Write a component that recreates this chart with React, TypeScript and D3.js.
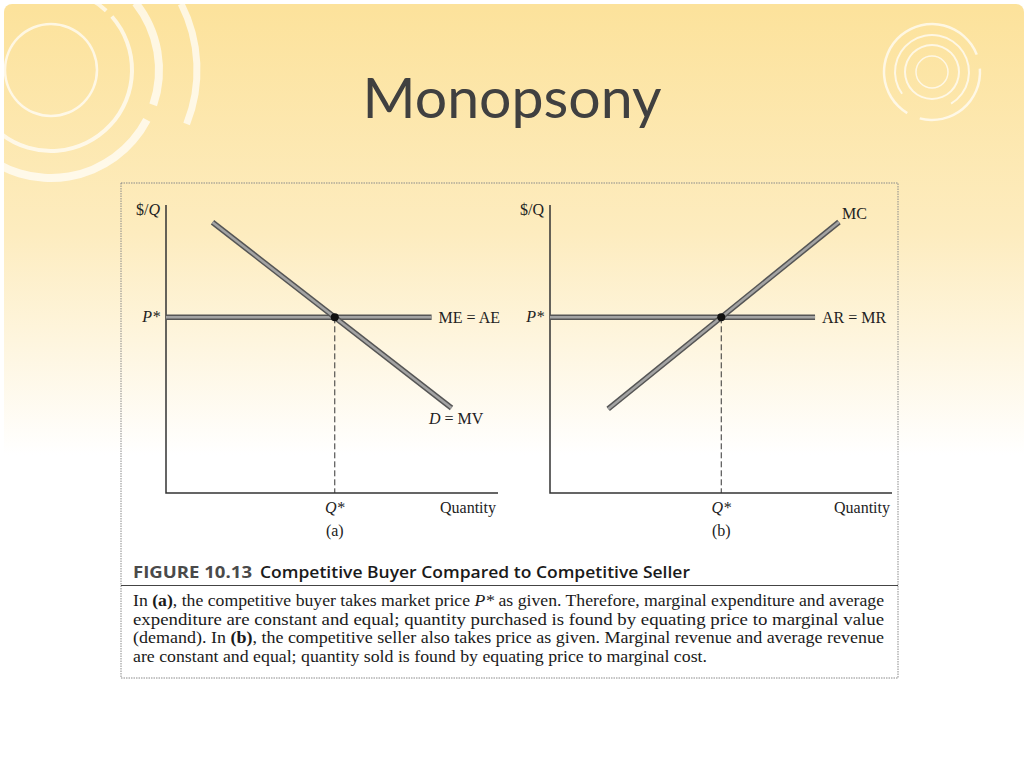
import React from 'react';
import * as d3 from 'd3';

// chart values (abstract units, 0-10 on both axes)
const pStar = 6.1;
const demandQ = [1.4, 8.6];
const demandP = [9.4, 2.95];
const mcQ = [1.7, 8.45];
const mcP = [2.92, 9.41];
const flatLineEnd = [8.0, 7.75]; // ME = AE in (a), AR = MR in (b)

const paragraph: { t: string; s?: string }[][] = [
  [{ t: 'In ' }, { t: '(a)', s: 'b' }, { t: ', the competitive buyer takes market price ' }, { t: 'P*', s: 'i' }, { t: ' as given. Therefore, marginal expenditure and average' }],
  [{ t: 'expenditure are constant and equal; quantity purchased is found by equating price to marginal value' }],
  [{ t: '(demand). In ' }, { t: '(b)', s: 'b' }, { t: ', the competitive seller also takes price as given. Marginal revenue and average revenue' }],
  [{ t: 'are constant and equal; quantity sold is found by equating price to marginal cost.' }],
];
const lineWidths = [751, 751, 751, 574];

const W = 1024;
const H = 768;
const serif = '"Liberation Serif", "DejaVu Serif", serif';

// where a straight segment crosses the price level
const crossAt = (qs: number[], ps: number[], p: number) =>
  qs[0] + ((p - ps[0]) / (ps[1] - ps[0])) * (qs[1] - qs[0]);

const ThickLine: React.FC<{ d: string }> = ({ d }) => (
  <g fill="none" strokeLinecap="butt">
    <path d={d} stroke="#555" strokeWidth={5.5} />
    <path d={d} stroke="#a3a3a3" strokeWidth={2.5} />
  </g>
);

interface PanelProps {
  x0: number;
  x1: number;
  qs: number[];
  ps: number[];
  flatEnd: number;
  flatLabel: string;
  curveLabel: React.ReactNode;
  curveLabelPos: [number, number];
  sub: string;
  italicQ: boolean;
}

const Panel: React.FC<PanelProps> = ({ x0, x1, qs, ps, flatEnd, flatLabel, curveLabel, curveLabelPos, sub, italicQ }) => {
  const x = d3.scaleLinear().domain([0, 10]).range([x0, x1]);
  const y = d3.scaleLinear().domain([0, 10]).range([493, 205]);
  const line = d3.line<[number, number]>().x(d => x(d[0])).y(d => y(d[1]));
  const curve = line(qs.map((q, i) => [q, ps[i]] as [number, number])) || '';
  const flat = line([[0, pStar], [flatEnd, pStar]]) || '';
  const qStar = crossAt(qs, ps, pStar);
  return (
    <g fontFamily={serif} fontSize={16} fill="#222">
      {/* axes */}
      <path d={`M${x(0)},${y(10)}V${y(0)}H${x(10)}`} fill="none" stroke="#333" strokeWidth={1.5} />
      {/* dashed guide */}
      <line x1={x(qStar)} x2={x(qStar)} y1={y(pStar)} y2={y(0)} stroke="#333" strokeWidth={1} strokeDasharray="6,3" />
      <ThickLine d={flat} />
      <ThickLine d={curve} />
      <circle cx={x(qStar)} cy={y(pStar)} r={4} fill="#111" />
      <text x={x(0) - 6} y={215} textAnchor="end">
        $/<tspan fontStyle={italicQ ? 'italic' : 'normal'}>Q</tspan>
      </text>
      <text x={x(0) - 6} y={y(pStar) + 5} textAnchor="end" fontStyle="italic">P*</text>
      <text x={x(flatEnd) + 7} y={y(pStar) + 6}>{flatLabel}</text>
      <text x={curveLabelPos[0]} y={curveLabelPos[1]}>{curveLabel}</text>
      <text x={x(qStar)} y={513} textAnchor="middle" fontStyle="italic">Q*</text>
      <text x={x(10) - 2} y={513} textAnchor="end">Quantity</text>
      <text x={x(qStar)} y={536} textAnchor="middle">{sub}</text>
    </g>
  );
};

const Rings: React.FC<{ cx: number; cy: number; rings: [number, number, number, number][] }> = ({ cx, cy, rings }) => {
  const arc = d3.arc();
  return (
    <g transform={`translate(${cx},${cy})`} fill="#fff">
      {rings.map(([r, w, a0, a1], i) => (
        <path
          key={i}
          opacity={0.7}
          d={arc({ innerRadius: r - w / 2, outerRadius: r + w / 2, startAngle: a0, endAngle: a1 }) || ''}
        />
      ))}
    </g>
  );
};

const App: React.FC = () => {
  return (
    <div style={{ position: 'fixed', left: 0, top: 0 }}>
      <svg width={W} height={H} viewBox={`0 0 ${W} ${H}`}>
        <defs>
          <linearGradient id="bg" x1="0" y1="0" x2="0" y2="1">
            <stop offset="0" stopColor="#fce29b" />
            <stop offset="0.3" stopColor="#fdecbf" />
            <stop offset="0.59" stopColor="#ffffff" />
            <stop offset="1" stopColor="#ffffff" />
          </linearGradient>
        </defs>
        <rect width={W} height={H} fill="#fff" />
        <rect x={4} y={4} width={W - 4} height={H - 4} rx={8} fill="url(#bg)" />

        <Rings
          cx={51}
          cy={70}
          rings={[
            [46, 2.5, 0, 2 * Math.PI],
            [81, 4, -0.4, 0.75],
            [81, 4, 0.85, 3.8],
            [108, 8, 0.9, 1.9],
            [108, 8, 2.05, 3.9],
            [125, 4, 0.2, 0.9],
            [146, 7, 1.1, 1.95],
            [146, 4, 0.0, 0.5],
          ]}
        />
        <Rings
          cx={932}
          cy={72}
          rings={[
            [16, 1.5, 0, 2 * Math.PI],
            [27, 2, 0, 2 * Math.PI],
            [37, 2, -2.2, 2.6],
            [48, 2.5, -2.6, 1.2],
            [48, 2.5, 1.5, 3.4],
          ]}
        />

        <text
          x={512}
          y={118}
          textAnchor="middle"
          fontFamily="Lato, 'Open Sans', sans-serif"
          fontSize={57}
          fill="#404040"
          textLength={299}
          lengthAdjust="spacingAndGlyphs"
        >
          Monopsony
        </text>

        {/* figure frame */}
        <rect x={121} y={183} width={777} height={495} fill="none" stroke="#8a8a8a" strokeWidth={1} strokeDasharray="1.5,1" />

        <Panel
          x0={166}
          x1={498}
          qs={demandQ}
          ps={demandP}
          flatEnd={flatLineEnd[0]}
          flatLabel="ME = AE"
          curveLabel={<><tspan fontStyle="italic">D</tspan> = MV</>}
          curveLabelPos={[429, 424]}
          sub="(a)"
          italicQ={true}
        />
        <Panel
          x0={550}
          x1={892}
          qs={mcQ}
          ps={mcP}
          flatEnd={flatLineEnd[1]}
          flatLabel="AR = MR"
          curveLabel="MC"
          curveLabelPos={[842, 219]}
          sub="(b)"
          italicQ={false}
        />

        {/* caption */}
        <text x={133} y={578} fontFamily="'Open Sans', sans-serif" fontWeight={700} fontSize={16.5} fill="#4a4a4a" textLength={119} lengthAdjust="spacingAndGlyphs">
          FIGURE 10.13
        </text>
        <text x={260} y={578} fontFamily="'Open Sans', sans-serif" fontWeight={600} fontSize={16.5} fill="#1a1a1a" textLength={430} lengthAdjust="spacingAndGlyphs">
          Competitive Buyer Compared to Competitive Seller
        </text>
        <line x1={121} x2={898} y1={585.5} y2={585.5} stroke="#444" strokeWidth={1.2} />

        <g fontFamily={serif} fontSize={17.6} fill="#1a1a1a">
          {paragraph.map((segs, i) => (
            <text
              key={i}
              x={133}
              y={606 + i * 18.5}
              textLength={lineWidths[i]}
              lengthAdjust="spacingAndGlyphs"
            >
              {segs.map((s, j) => (
                <tspan key={j} fontWeight={s.s === 'b' ? 700 : 400} fontStyle={s.s === 'i' ? 'italic' : 'normal'}>
                  {s.t}
                </tspan>
              ))}
            </text>
          ))}
        </g>
      </svg>
    </div>
  );
};

export default App;
